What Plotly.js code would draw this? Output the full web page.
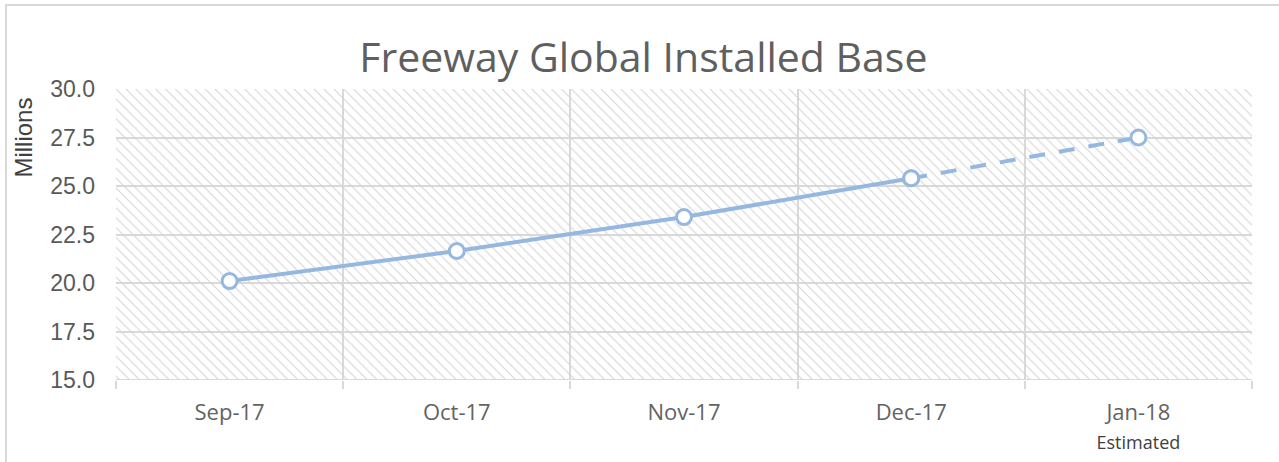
<!DOCTYPE html>
<html>
<head>
<meta charset="utf-8">
<script src="https://cdn.plot.ly/plotly-3.0.1.min.js"></script>
<style>
html,body{margin:0;padding:0;background:#fff;overflow:hidden;}
#frame{position:absolute;left:5px;top:4px;width:1290px;height:480px;border:2px solid #d9d9d9;box-sizing:border-box;pointer-events:none;z-index:5;}
#chart{position:absolute;left:0;top:0;width:1279px;height:462px;}
</style>
</head>
<body>
<div id="chart"></div>
<div id="frame"></div>
<script>
const months = ["Sep-17", "Oct-17", "Nov-17", "Dec-17", "Jan-18"];
const tickLabels = ["Sep-17", "Oct-17", "Nov-17", "Dec-17", "Jan-18<br><span style='font-size:18px;color:#404040'>Estimated</span>"];
const actual = [20.1, 21.65, 23.4, 25.4, null];
const estimated = [null, null, null, 25.4, 27.5];
const yMin = 15, yMax = 30;
const yTitle = "Millions";

const lineColor = "#95b8e1";

const bgTrace = {
  type: "bar",
  x: months,
  y: months.map(() => yMax - yMin),
  base: months.map(() => yMin),
  width: 1,
  marker: {
    color: "rgba(0,0,0,0)",
    line: {width: 0},
    pattern: {shape: "\\", fgcolor: "#d4d4d4", bgcolor: "rgba(0,0,0,0)", size: 7, solidity: 0.15, fillmode: "replace"}
  },
  hoverinfo: "skip",
  showlegend: false
};

const estTrace = {
  type: "scatter",
  mode: "lines+markers",
  x: months,
  y: estimated,
  line: {color: lineColor, width: 4, dash: "16px,14px"},
  marker: {symbol: "circle", size: 15, color: "#ffffff", line: {color: lineColor, width: 3}},
  showlegend: false
};

const actTrace = {
  type: "scatter",
  mode: "lines+markers",
  x: months,
  y: actual,
  line: {color: lineColor, width: 4},
  marker: {symbol: "circle", size: 15, color: "#ffffff", line: {color: lineColor, width: 3}},
  showlegend: false
};

const layout = {
  width: 1279,
  height: 462,
  margin: {l: 116, r: 27, t: 89, b: 82},
  paper_bgcolor: "rgba(0,0,0,0)",
  plot_bgcolor: "#ffffff",
  barmode: "overlay",
  title: {
    text: "Freeway Global Installed Base",
    font: {family: "Open Sans", size: 41, color: "#5f5f5f"},
    x: 0.503, xanchor: "center",
    y: 0.875, yanchor: "middle"
  },
  xaxis: {
    type: "category",
    categoryorder: "array",
    categoryarray: months,
    tickvals: months,
    ticktext: tickLabels,
    range: [-0.5, 4.5],
    tickson: "boundaries",
    ticks: "outside",
    ticklen: 8,
    tickwidth: 2,
    tickcolor: "#d9d9d9",
    ticklabelstandoff: 17,
    showgrid: true,
    gridcolor: "#d9d9d9",
    gridwidth: 2,
    showline: false,
    zeroline: false,
    tickfont: {family: "Open Sans", size: 22, color: "#636363"},
    fixedrange: true
  },
  yaxis: {
    range: [yMin, yMax],
    dtick: 2.5,
    tick0: 15,
    tickformat: ".1f",
    showgrid: true,
    gridcolor: "#d9d9d9",
    gridwidth: 2,
    zeroline: false,
    showline: false,
    ticks: "",
    ticklabelstandoff: 20,
    tickfont: {family: "Liberation Sans, Arial", size: 23, color: "#595959"},
    fixedrange: true
  },
  annotations: [
    {text: yTitle, xref: "paper", yref: "paper", x: -0.081, y: 0.833, xanchor: "center", yanchor: "middle",
     textangle: -90, showarrow: false, font: {family: "Liberation Sans, Arial", size: 24, color: "#404040"}}
  ],
  shapes: [
    {type: "line", xref: "paper", yref: "y", x0: 0, x1: 1, y0: yMin, y1: yMin, line: {color: "#d9d9d9", width: 2}, layer: "above"}
  ]
};

Plotly.newPlot("chart", [bgTrace, actTrace, estTrace], layout, {displayModeBar: false, staticPlot: true});
</script>
</body>
</html>
